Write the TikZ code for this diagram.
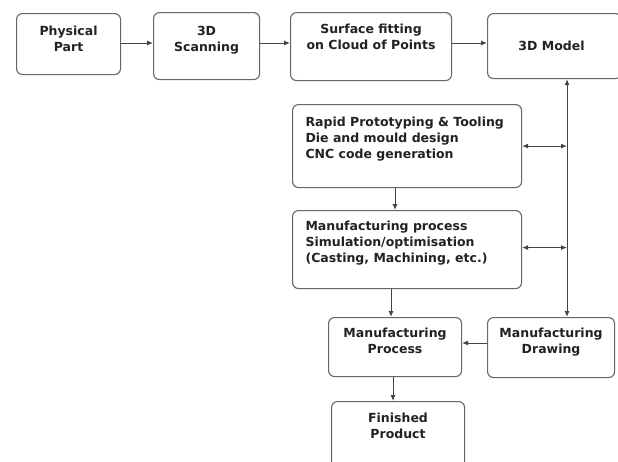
\documentclass[tikz,border=0pt]{standalone}
\usepackage{fontspec}
\setmainfont{DejaVu Sans}
\usetikzlibrary{arrows.meta,calc}
\definecolor{edge}{HTML}{666666}
\definecolor{wire}{HTML}{444444}
\definecolor{ink}{HTML}{222222}
\newcommand\bxt[5]{\parbox[t][#2][t]{#1}{#3\rule{0pt}{#4}#5}}
\tikzset{
  box/.style={draw=edge, line width=1.1pt, rounded corners=6pt, fill=white,
    inner sep=0pt, anchor=north west, text=ink,
    font=\fontsize{12.5}{16}\selectfont\bfseries},
  conn/.style={draw=wire, line width=1pt, -{Latex[length=6pt,width=5pt]}},
  bconn/.style={draw=wire, line width=1pt, {Latex[length=6pt,width=5pt]}-{Latex[length=6pt,width=5pt]}}
}
\begin{document}
\begin{tikzpicture}[x=1pt,y=-1pt]
\clip (0,0) rectangle (618,461);
\fill[white] (0,0) rectangle (618,461);
\node[box] (pp) at (16,13) {\bxt{104pt}{61pt}{\centering}{22pt}{Physical\\Part}};
\node[box] (sc) at (153,12) {\bxt{106pt}{67pt}{\centering}{23pt}{3D\\Scanning}};
\node[box] (sf) at (290,12) {\bxt{161pt}{68pt}{\centering}{21pt}{Surface fitting\\on Cloud of Points}};
\node[box] (md) at (487,13) {\bxt{134pt}{65pt}{\centering}{37pt}{\hspace*{-6pt}3D Model}};
\node[box] (rp) at (292,104) {\bxt{229pt}{83pt}{\leftskip=13pt\relax}{21.7pt}{Rapid Prototyping \& Tooling\\Die and mould design\\CNC code generation}};
\node[box] (ms) at (292,210) {\bxt{229pt}{78pt}{\leftskip=13pt\relax}{20pt}{Manufacturing process\\Simulation/optimisation\\(Casting, Machining, etc.)}};
\node[box] (mp) at (328,317) {\bxt{133pt}{59pt}{\centering}{20pt}{Manufacturing\\Process}};
\node[box] (mdw) at (487,317) {\bxt{127pt}{60pt}{\centering}{20pt}{Manufacturing\\Drawing}};
\node[box] (fp) at (331,401) {\bxt{133pt}{70pt}{\centering}{21pt}{Finished\\Product}};
\coordinate (row) at (0,43);
\coordinate (vx) at (567,0);
\coordinate (c1) at (395,0);
\coordinate (c2) at (391,0);
\coordinate (c3) at (393,0);
\coordinate (r4) at (0,343);
\draw[conn] (pp.east |- row) -- (sc.west |- row);
\draw[conn] (sc.east |- row) -- (sf.west |- row);
\draw[conn] (sf.east |- row) -- (md.west |- row);
\draw[bconn] (vx |- md.south) -- (vx |- mdw.north);
\draw[bconn] (rp.east) -- (vx |- rp.east);
\draw[bconn] ($(ms.east)+(0,-2)$) -- ($(vx |- ms.east)+(0,-2)$);
\draw[conn] (c1 |- rp.south) -- (c1 |- ms.north);
\draw[conn] (c2 |- ms.south) -- (c2 |- mp.north);
\draw[conn] (mdw.west |- r4) -- (mp.east |- r4);
\draw[conn] (c3 |- mp.south) -- (c3 |- fp.north);
\end{tikzpicture}
\end{document}
